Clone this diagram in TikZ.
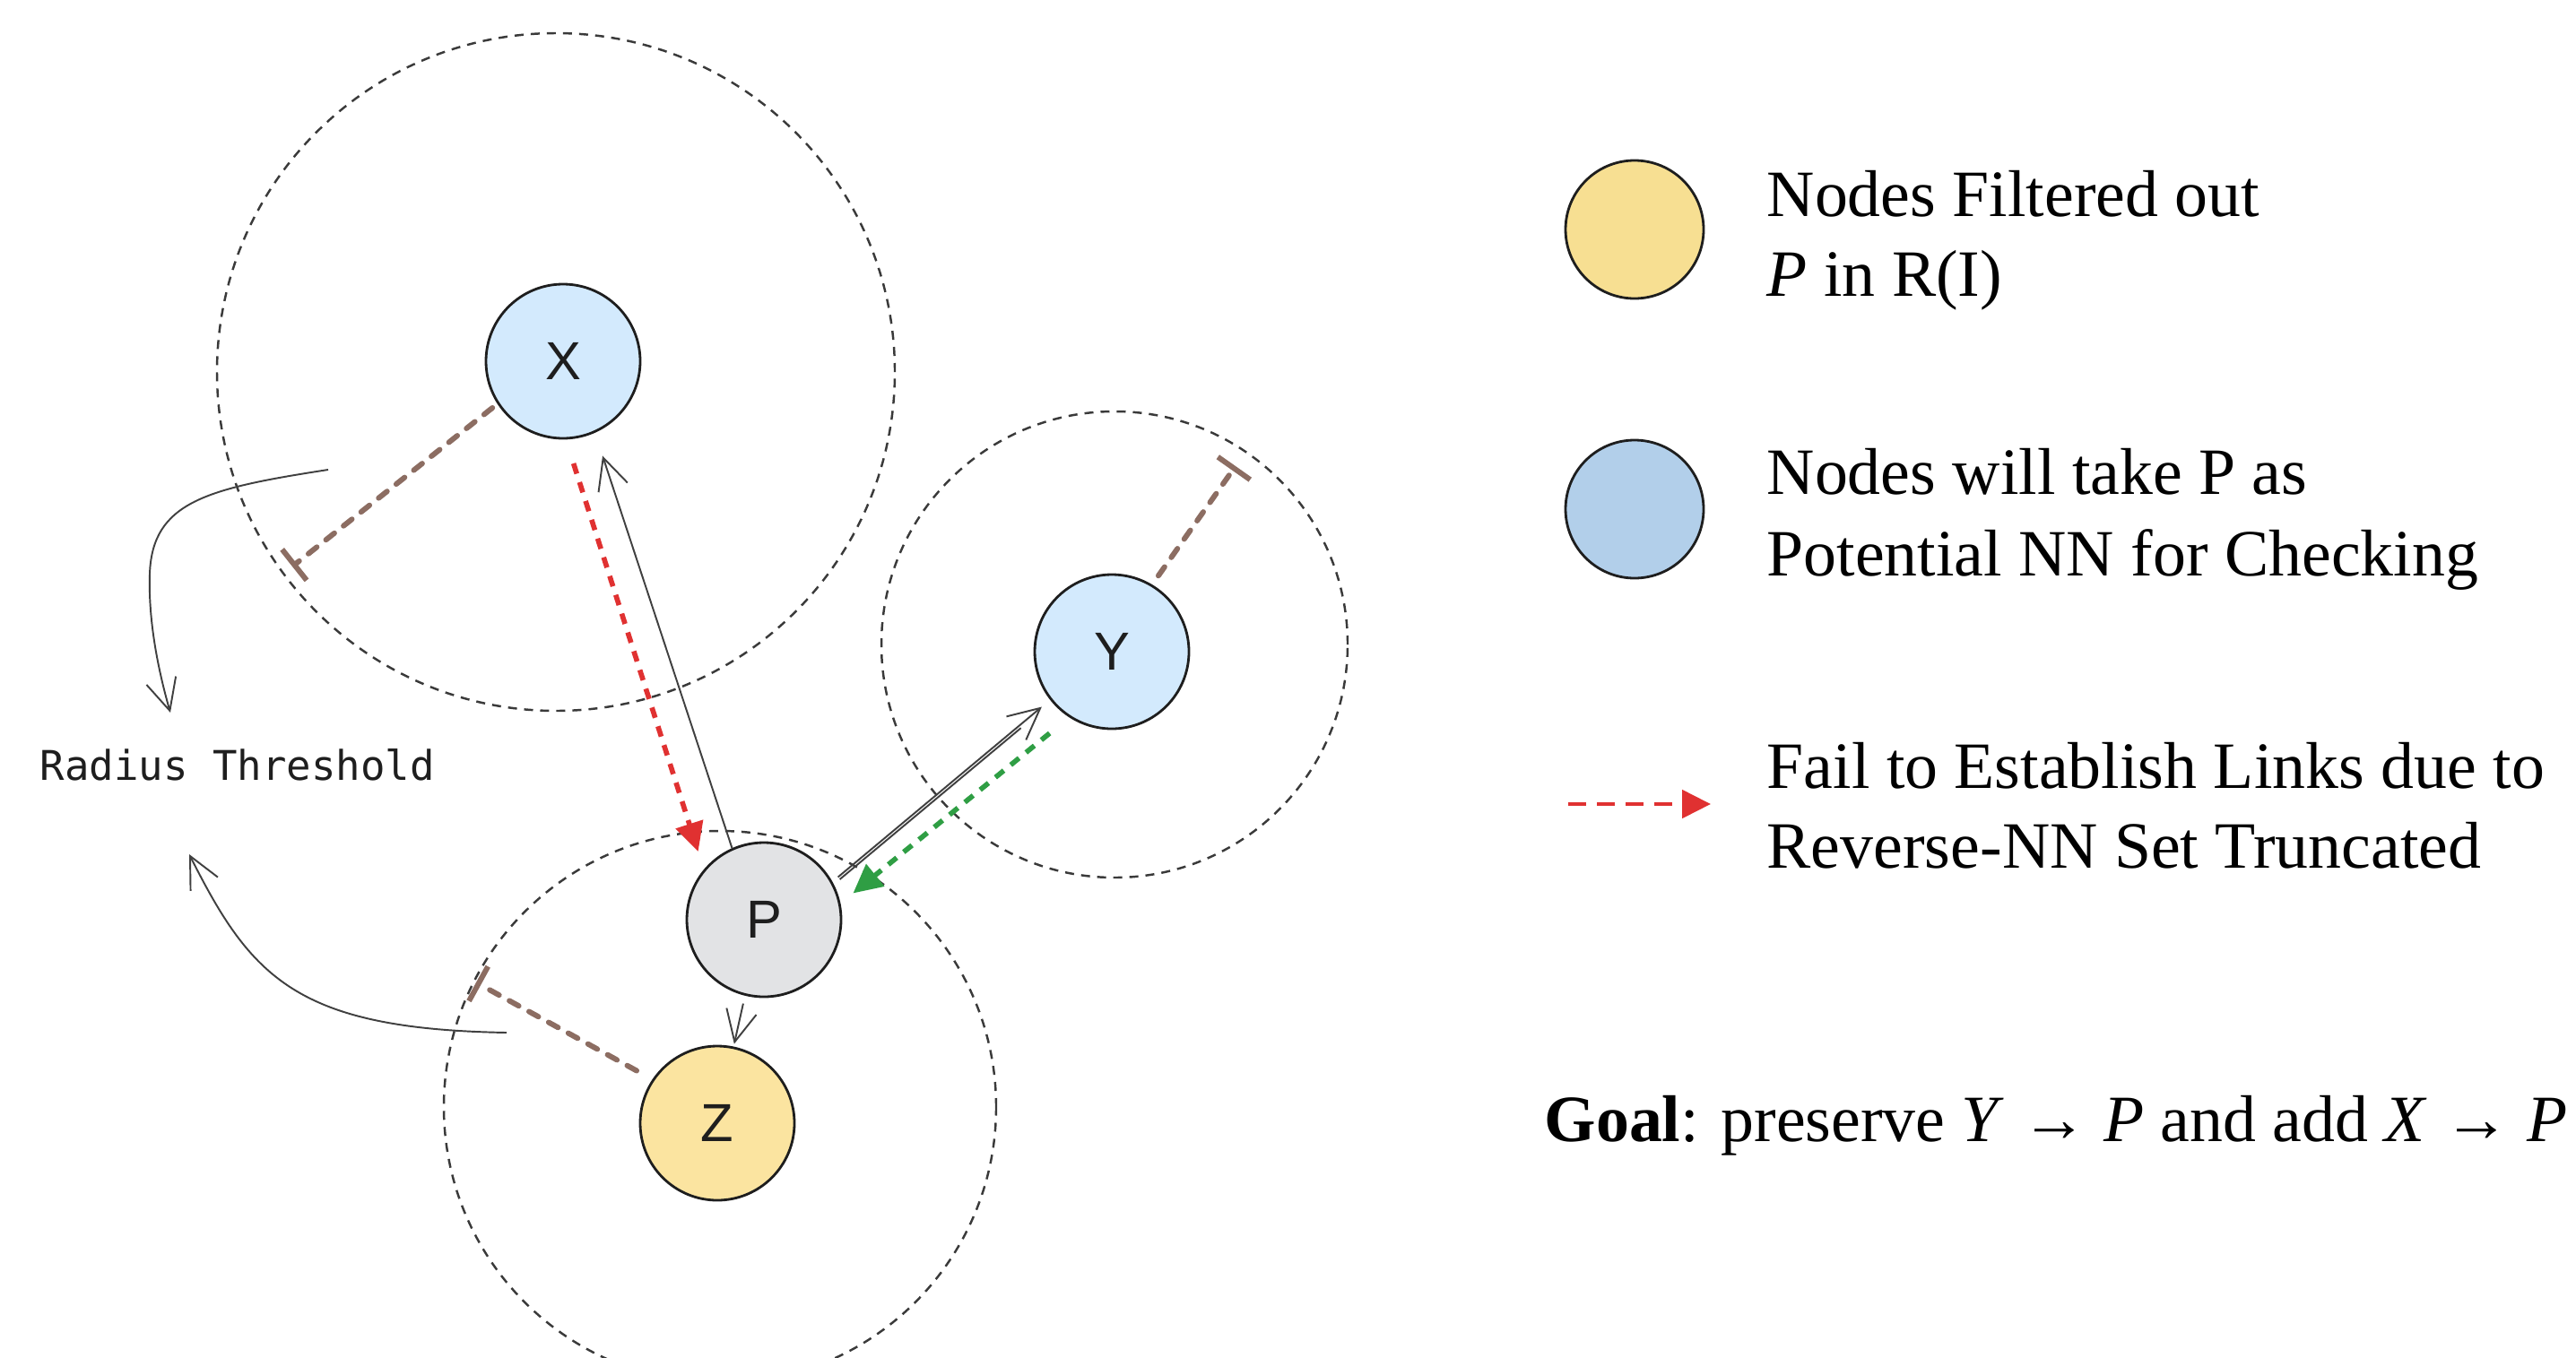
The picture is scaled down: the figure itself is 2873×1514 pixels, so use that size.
\documentclass[tikz,border=0pt]{standalone}
\usepackage{fontspec}
\setmainfont{Liberation Serif}
\newfontfamily\labelfont{Liberation Sans}
\newfontfamily\codefont{DejaVu Sans Mono}
\usetikzlibrary{arrows.meta}
\definecolor{ink}{HTML}{1E1E1E}
\definecolor{ringgray}{HTML}{3A3A3A}
\definecolor{skyfill}{HTML}{D3EAFD}
\definecolor{ashfill}{HTML}{E2E3E5}
\definecolor{sandfill}{HTML}{FBE4A0}
\definecolor{skykey}{HTML}{B2CFEA}
\definecolor{sandkey}{HTML}{F7DF92}
\definecolor{bark}{HTML}{8C6D62}
\definecolor{failred}{HTML}{E03131}
\definecolor{keepgreen}{HTML}{2F9E44}

\tikzset{
  vtx/.style={circle,draw=ink,line width=0.8pt,minimum size=17.2mm,inner sep=0pt,
    text=ink,font=\labelfont\fontsize{17}{17}\selectfont},
  ringline/.style={draw=ringgray,line width=0.7pt,dash pattern=on 1mm off 0.8mm},
  reach/.style={draw=bark,line width=1.7pt,line cap=round,dash pattern=on 1.2mm off 1.3mm,
    -{Bar[width=4.4mm]}},
  linkline/.style={draw=ink!85,line width=0.55pt},
  linkarrow/.style={linkline,-{Straight Barb[length=3.5mm,width=3.4mm]}},
  failarrow/.style={draw=failred,line width=1.6pt,dash pattern=on 1.2mm off 1mm,
    -{Triangle[length=3.2mm,width=3.1mm]}},
  keeparrow/.style={failarrow,draw=keepgreen},
  legendtext/.style={anchor=base west,inner sep=0pt,font=\fontsize{21}{25}\selectfont}
}

\begin{document}
\begin{tikzpicture}[x=0.1mm,y=-0.1mm]
  \useasboundingbox (0,0) rectangle (2873,1514);

  % radius rings
  \draw[ringline] (620,415) circle (37.8mm);
  \draw[ringline] (1243,719) circle (26mm);
  \draw[ringline] (803,1235) circle (30.8mm);

  % points
  \node[vtx,fill=skyfill] (X) at (628,403) {X};
  \node[vtx,fill=skyfill] (Y) at (1240,727) {Y};
  \node[vtx,fill=ashfill] (P) at (852,1026) {P};
  \node[vtx,fill=sandfill] (Z) at (800,1253) {Z};

  % radius threshold
  \coordinate (xr) at (326,632);
  \coordinate (yr) at (1378,520);
  \coordinate (zr) at (531,1096);
  \draw[reach,shorten <=0.7mm] (X.-147) -- (xr);
  \draw[reach,shorten <=1.2mm] (Y.59) -- (yr);
  \draw[reach,shorten <=2mm] (Z.146) -- (zr);

  \node[anchor=west,inner sep=0pt,text=ink,font=\codefont\fontsize{13}{15}\selectfont]
    (rt) at (44,853) {Radius Threshold};
  \coordinate (c1) at (366,524);
  \coordinate (c1tip) at (190,795);
  \coordinate (c2) at (565,1152);
  \coordinate (c2tip) at (211,953);
  \draw[linkarrow] (c1) .. controls (230,545) and (170,560) .. (167,640)
    .. controls (165,700) and (180,760) .. (c1tip);
  \draw[linkarrow] (c2) .. controls (330,1148) and (280,1090) .. (c2tip);

  % links around P
  \draw[linkarrow,shorten >=2.7mm] (P.114) -- (X.-66);
  \draw[failarrow,shorten <=2.8mm,shorten >=2.1mm] (X.-88) -- (P.140);
  \draw[linkarrow,shorten <=0.8mm,shorten >=1.2mm] (P.29) -- (Y.-142);
  \draw[linkline,shorten <=0.8mm,shorten >=4.5mm,transform canvas={shift={(0.2mm,-0.25mm)}}]
    (P.29) -- (Y.-142);
  \draw[keeparrow,shorten <=2.8mm,shorten >=1.8mm] (Y.-123) -- (P.12);
  \draw[linkarrow,shorten <=0.9mm,shorten >=0.3mm] (P.-104) -- (Z.78);

  % legend
  \node[vtx,minimum size=15.4mm,fill=sandkey] (k1) at (1823,256) {};
  \node[vtx,minimum size=15.4mm,fill=skykey] (k2) at (1823,568) {};
  \coordinate (k3a) at (1749,897);
  \coordinate (k3b) at (1908,897);
  \draw[failarrow,line width=1.4pt,dash pattern=on 2mm off 1.2mm] (k3a) -- (k3b);

  \node[legendtext] (t1a) at (1970,241) {Nodes Filtered out};
  \node[legendtext] (t1b) at (1970,330) {\textit{P} in R(I)};
  \node[legendtext] (t2a) at (1970,551) {Nodes will take P as};
  \node[legendtext] (t2b) at (1970,642) {Potential NN for Checking};
  \node[legendtext] (t3a) at (1970,879) {Fail to Establish Links due to};
  \node[legendtext] (t3b) at (1970,968) {Reverse-NN Set Truncated};
  \node[legendtext] (goal) at (1722,1273)
    {\textbf{Goal}: preserve \textit{Y} → \textit{P} and add \textit{X} → \textit{P}};
\end{tikzpicture}
\end{document}
